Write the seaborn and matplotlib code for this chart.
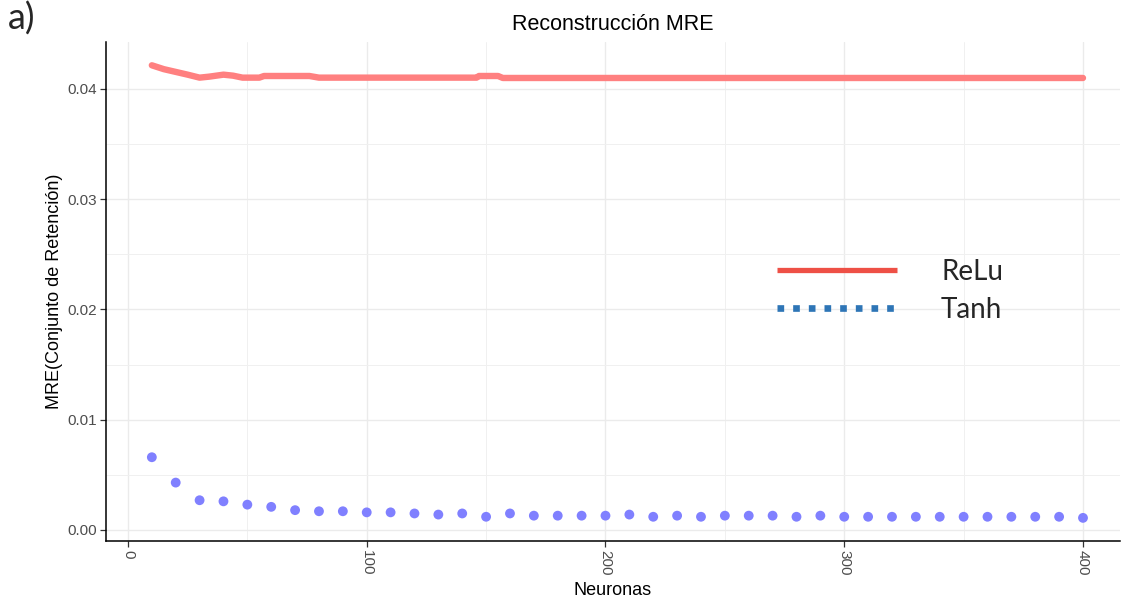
import matplotlib
matplotlib.use("Agg")
import matplotlib.pyplot as plt
from matplotlib.lines import Line2D
from matplotlib.ticker import MultipleLocator
import seaborn as sns
import pandas as pd

# ReLu reconstruction error (held-out set) versus number of neurons
relu_neuronas = [10, 15, 20, 25, 30, 34, 40, 44, 48, 55, 57, 76, 80, 146, 147, 155, 157, 400]
relu_mre = [0.04215, 0.04180, 0.04155, 0.04130, 0.04103, 0.04112, 0.04130, 0.04121,
            0.04103, 0.04103, 0.04118, 0.04118, 0.04103, 0.04103, 0.04118, 0.04118,
            0.04100, 0.04100]

# Tanh reconstruction error, one value every 10 neurons
tanh_neuronas = list(range(10, 401, 10))
tanh_mre = [0.0066, 0.0043, 0.0027, 0.0026, 0.0023, 0.0021, 0.0018, 0.0017, 0.0017, 0.0016,
            0.0016, 0.0015, 0.0014, 0.0015, 0.0012, 0.0015, 0.0013, 0.0013, 0.0013, 0.0013,
            0.0014, 0.0012, 0.0013, 0.0012, 0.0013, 0.0013, 0.0013, 0.0012, 0.0013, 0.0012,
            0.0012, 0.0012, 0.0012, 0.0012, 0.0012, 0.0012, 0.0012, 0.0012, 0.0012, 0.0011]

x_ticks = [0, 100, 200, 300, 400]
y_ticks = [0.00, 0.01, 0.02, 0.03, 0.04]
leyenda = ["ReLu", "Tanh"]

relu_df = pd.DataFrame({"Neuronas": relu_neuronas, "MRE": relu_mre})
tanh_df = pd.DataFrame({"Neuronas": tanh_neuronas, "MRE": tanh_mre})

sns.set_style("white")
plt.rcParams["font.family"] = ["Liberation Sans", "DejaVu Sans"]

W, H = 1127, 599
fig = plt.figure(figsize=(W / 100, H / 100), dpi=100)
ax = fig.add_axes([106 / W, 1 - 541 / H, (1120 - 106) / W, (541 - 42) / H])

sns.lineplot(data=relu_df, x="Neuronas", y="MRE", ax=ax, color="#FF8080",
             linewidth=4.6, estimator=None, sort=True, zorder=3)
sns.scatterplot(data=tanh_df, x="Neuronas", y="MRE", ax=ax, color="#8080FF",
                s=50, edgecolor="none", zorder=3)

ax.set_xlim(-9.2, 415.5)
ax.set_ylim(-0.000998, 0.044263)
ax.set_xticks(x_ticks)
ax.set_xticklabels([str(v) for v in x_ticks])
ax.set_yticks(y_ticks)
ax.set_yticklabels([f"{v:.2f}" for v in y_ticks])
ax.xaxis.set_minor_locator(MultipleLocator(50))
ax.yaxis.set_minor_locator(MultipleLocator(0.005))

ax.grid(True, which="major", color="#EBEBEB", linewidth=1.0, zorder=0)
ax.grid(True, which="minor", color="#F0F0F0", linewidth=0.7, zorder=0)
ax.set_axisbelow(True)

for side in ["top", "right"]:
    ax.spines[side].set_visible(False)
for side in ["left", "bottom"]:
    ax.spines[side].set_color("black")
    ax.spines[side].set_linewidth(1.1)

ax.tick_params(axis="both", which="major", length=4, width=0.9, color="#333333",
               labelsize=11, labelcolor="#4D4D4D", pad=2.5, bottom=True, left=True)
ax.tick_params(axis="both", which="minor", length=0)
plt.setp(ax.get_xticklabels(), rotation=-90, va="top", ha="center")

ax.set_xlabel("Neuronas", fontsize=13, color="black", labelpad=5)
ax.set_ylabel("MRE(Conjunto de Retención)", fontsize=13, color="black", labelpad=3)
ax.set_title("Reconstrucción MRE", fontsize=15.5, color="black", pad=9)

legend_fs = 20
legend_px = legend_fs * 100 / 72
handles = [
    Line2D([], [], color="#EE5046", linewidth=3.8, solid_capstyle="butt"),
    Line2D([], [], color="#2E75B6", linewidth=4.8, linestyle=(0, (1, 1.35)),
           dash_capstyle="butt"),
]
ax.legend(handles, leyenda, loc="upper left", bbox_to_anchor=(777 / W, 1 - 259 / H),
          bbox_transform=fig.transFigure, frameon=False, borderpad=0, borderaxespad=0,
          handlelength=120 / legend_px, handletextpad=44 / legend_px, labelspacing=0.42,
          prop={"family": ["Lato", "DejaVu Sans"], "size": legend_fs})

fig.text(8 / W, 1 - 2 / H, "a)", fontsize=26, family=["Lato", "DejaVu Sans"],
         va="top", ha="left")

fig.savefig("out.png", dpi=100)
